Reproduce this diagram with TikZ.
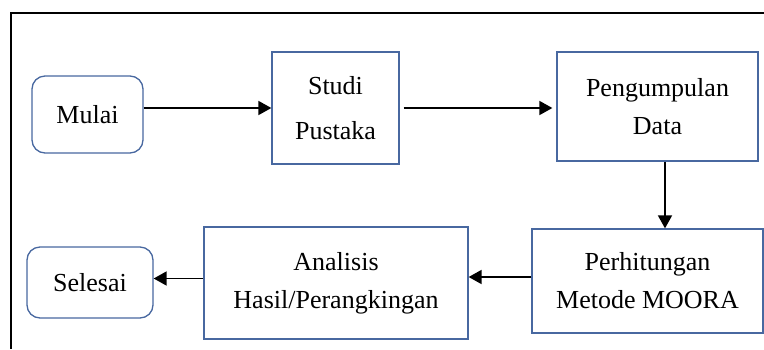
\documentclass[tikz,border=0pt]{standalone}
\usepackage{fontspec}
\setmainfont{Liberation Serif}
\usetikzlibrary{arrows.meta,calc}
\definecolor{boxblue}{RGB}{72,104,160}
\begin{document}
\begin{tikzpicture}[x=1pt,y=1pt,
  procbox/.style={draw=boxblue,line width=1.3pt,fill=white,align=center,inner sep=0pt,
    font=\fontsize{26}{38}\selectfont},
  termbox/.style={procbox,rounded corners=13pt},
  arr/.style={-{Triangle[length=13pt,width=14pt]},line width=1.8pt,black},
  frameline/.style={line width=1.6pt,black}]
\useasboundingbox (0,0) rectangle (764,-349);
% frame
\coordinate (fTR) at (764,-13);
\coordinate (fTL) at (11,-13);
\coordinate (fBL) at (11,-349);
\draw[frameline] (fTR) -- (fTL) -- (fBL);
% nodes
\node[termbox,minimum width=111pt,minimum height=77pt] (mulai) at (87.5,-114.5) {Mulai};
\node[procbox,minimum width=127pt,minimum height=112pt,font=\fontsize{26}{45}\selectfont] (studi) at (335.5,-108) {Studi\\Pustaka};
\node[procbox,minimum width=201pt,minimum height=109pt] (peng) at (657.5,-106.5) {Pengumpulan\\Data};
\node[procbox,minimum width=231pt,minimum height=104pt] (perh) at (647.5,-281) {Perhitungan\\Metode MOORA};
\node[procbox,minimum width=264pt,minimum height=112pt] (anal) at (336,-283) {Analisis\\Hasil/Perangkingan};
\node[termbox,minimum width=126pt,minimum height=71pt] (seles) at (90,-282.5) {Selesai};
% connectors
\draw[arr] (mulai.east|-studi.west) -- (studi.west);
\draw[arr,shorten <=4pt,shorten >=4pt] (studi.east) -- (peng.west|-studi.east);
\draw[arr] ([xshift=7.5pt]peng.south) -- ([xshift=7.5pt]peng.south|-perh.north);
\draw[arr] ([yshift=4pt]perh.west) -- ([yshift=4pt]perh.west-|anal.east);
\draw[arr] ([yshift=4.5pt]anal.west) -- ([yshift=4.5pt]anal.west-|seles.east);
\end{tikzpicture}
\end{document}
